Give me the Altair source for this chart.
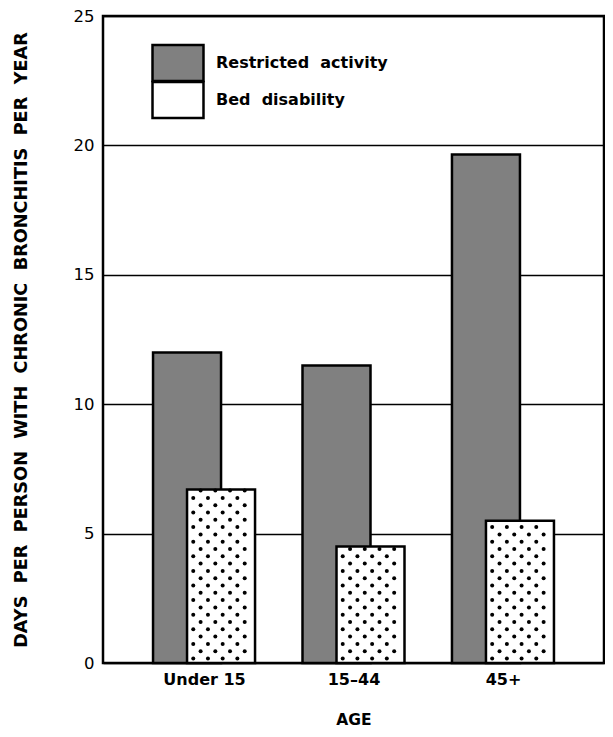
import json
import altair as alt
import pandas as pd

ages = ["Under 15", "15–44", "45+"]
restricted = [12.0, 11.5, 19.65]
bed = [6.7, 4.5, 5.5]
series = ["Restricted activity", "Bed disability"]

rows = []
for i, (a, r, b) in enumerate(zip(ages, restricted, bed)):
    rows.append({"age": a, "idx": i, "series": series[0], "value": r})
    rows.append({"age": a, "idx": i, "series": series[1], "value": b})
df = pd.DataFrame(rows)

FONT = "DejaVu Sans"
W, H = 501, 647
PAD_OUT = 0.1426
STEP = W / (3 + 2 * PAD_OUT)   # px per category step
UNIT = H / 25.0                # px per y unit
XDOM = [-(PAD_OUT + 0.5), 2.5 + PAD_OUT]

x = alt.X("idx:Q", title="AGE",
          scale=alt.Scale(domain=XDOM, nice=False, zero=False),
          axis=alt.Axis(values=[0, 1, 2], labelExpr=f"{json.dumps(ages)}[datum.value]",
                        ticks=False, domain=False, grid=False,
                        labelFontSize=16, labelFontWeight="bold", labelPadding=8,
                        titleFontSize=15.5, titleFontWeight="bold", titlePadding=25,
                        labelColor="black", titleColor="black"))
y = alt.Y("value:Q",
          title="DAYS\u00a0\u00a0PER\u00a0\u00a0PERSON\u00a0\u00a0WITH\u00a0\u00a0CHRONIC\u00a0\u00a0BRONCHITIS\u00a0\u00a0PER\u00a0\u00a0YEAR",
          scale=alt.Scale(domain=[0, 25], nice=False),
          axis=alt.Axis(values=[0, 5, 10, 15, 20, 25], ticks=False, domain=False,
                        grid=True, gridColor="black", gridWidth=1.5, gridOpacity=1,
                        labelFontSize=16.5, labelPadding=9, labelColor="black",
                        titleFontSize=17.7, titleFontWeight="bold", titlePadding=43,
                        titleColor="black"))
color = alt.Color("series:N", scale=alt.Scale(domain=series, range=["#808080", "white"]),
                  legend=alt.Legend(title=None, orient="none", legendX=61, legendY=33,
                                    symbolType="M-2,-1.41H2V1.41H-2Z", symbolSize=650,
                                    symbolStrokeColor="black", symbolStrokeWidth=2.5,
                                    labelFontSize=16, labelFontWeight="bold", labelLimit=0,
                                    labelColor="black", labelOffset=24, rowPadding=-10,
                                    labelExpr="replace(datum.label, ' ', '\u00a0\u00a0')"))

base = alt.Chart(df)
r_layer = base.transform_filter(alt.datum.series == series[0]).mark_bar(
    width=68, xOffset=-17, stroke="black", strokeWidth=2.5).encode(x=x, y=y, fill=color)
b_layer = base.transform_filter(alt.datum.series == series[1]).mark_bar(
    width=68, xOffset=17, stroke="black", strokeWidth=2.5).encode(x=x, y=y, fill=color)

# dotted texture inside the bed-disability bars (staggered grid of dots)
dots = (
    base.transform_filter(alt.datum.series == series[1])
    .transform_calculate(row=f"sequence(0, floor((datum.value * {UNIT} - 5) / 7.3) + 1)")
    .transform_flatten(["row"])
    .transform_calculate(col="sequence(0, 5)")
    .transform_flatten(["col"])
    .transform_calculate(
        px="-11 + datum.col * 15 + (datum.row % 2) * 7.5",
        yv=f"(4.5 + datum.row * 7.3) / {UNIT}",
    )
    .transform_filter("datum.px <= 46")
    .transform_calculate(xv=f"datum.idx + datum.px / {STEP}")
    .mark_circle(size=16, color="black", opacity=1)
    .encode(x=alt.X("xv:Q", scale=alt.Scale(domain=XDOM, nice=False, zero=False)),
            y=alt.Y("yv:Q", scale=alt.Scale(domain=[0, 25], nice=False)))
)

chart = (
    alt.layer(r_layer, b_layer, dots)
    .properties(width=W, height=H, autosize="none",
                padding={"left": 95, "top": 8, "right": 1, "bottom": 66})
    .configure(font=FONT)
    .configure_view(stroke="black", strokeWidth=2.5)
)

chart.save("out.html", embed_options={"renderer": "svg", "actions": False})
